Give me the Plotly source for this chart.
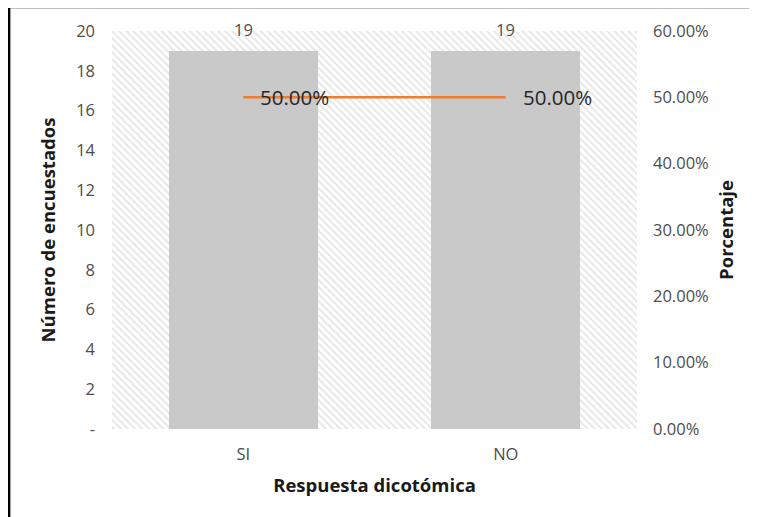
import plotly.graph_objects as go

categorias = ["SI", "NO"]
encuestados = [19, 19]
porcentajes = [0.50, 0.50]
ticks_izq = [0, 2, 4, 6, 8, 10, 12, 14, 16, 18, 20]
ticks_izq_txt = ["-", "2", "4", "6", "8", "10", "12", "14", "16", "18", "20"]
ticks_der = [0, 0.1, 0.2, 0.3, 0.4, 0.5, 0.6]

FONT = "Open Sans"
GRIS_TXT = "#4d4d4d"
NARANJA = "#ED7D31"
TITULO = dict(size=18.5, color="#1a1a1a", family=FONT)
TICKS = dict(size=16.5, color=GRIS_TXT, family=FONT)

fig = go.Figure()

# hatched plot-area background (drawn on the base axes, below everything)
fig.add_trace(go.Bar(
    x=[0.5], y=[1], width=[1], xaxis="x", yaxis="y",
    marker=dict(color="white", line=dict(width=0),
                pattern=dict(shape="\\", fgcolor="#cccccc", bgcolor="white", size=5, solidity=0.35)),
    hoverinfo="skip", showlegend=False,
))

fig.add_trace(go.Bar(
    x=categorias, y=encuestados, xaxis="x2", yaxis="y2", width=0.567,
    marker=dict(color="#C9C9C9", line=dict(width=0)),
    name="Número de encuestados", showlegend=False,
))

fig.add_trace(go.Scatter(
    x=categorias, y=porcentajes, xaxis="x2", yaxis="y3", mode="lines",
    line=dict(color=NARANJA, width=2.5),
    name="Porcentaje", showlegend=False,
))

for c, v in zip(categorias, encuestados):
    fig.add_annotation(x=c, y=v, xref="x2", yref="y2", text=str(v), showarrow=False,
                       yanchor="bottom", yshift=8, font=TICKS)
for c, p in zip(categorias, porcentajes):
    fig.add_annotation(x=c, y=p, xref="x2", yref="y3", text=f"{p*100:.2f}%", showarrow=False,
                       xanchor="left", xshift=15, font=dict(family=FONT, size=20.5, color="#262626"))

# outer frame (top and left edges visible in the reference)
fig.add_shape(type="line", xref="paper", yref="paper", x0=-0.196, x1=1.4, y0=1.0603, y1=1.0603,
              line=dict(color="black", width=2.5))
fig.add_shape(type="line", xref="paper", yref="paper", x0=-0.196, x1=-0.196, y0=1.0603, y1=-0.3,
              line=dict(color="black", width=2.5))

fig.update_layout(
    width=757, height=517,
    margin=dict(l=104, r=128, t=23, b=96),
    paper_bgcolor="white", plot_bgcolor="white",
    font=dict(family=FONT, size=14, color=GRIS_TXT),
    bargap=0,
    xaxis=dict(range=[0, 1], visible=False, fixedrange=True),
    yaxis=dict(range=[0, 1], visible=False, fixedrange=True),
    xaxis2=dict(overlaying="x", type="category", showgrid=False, showline=False, zeroline=False,
                ticks="", ticklabelstandoff=13, tickfont=TICKS,
                title=dict(text="<b>Respuesta dicotómica</b>", standoff=15, font=TITULO)),
    yaxis2=dict(overlaying="y", side="left", range=[0, 20], tickvals=ticks_izq, ticktext=ticks_izq_txt,
                showgrid=False, zeroline=False, showline=False, ticks="", ticklabelstandoff=16,
                tickfont=TICKS,
                title=dict(text="<b>Número de encuestados</b>", standoff=15, font=TITULO)),
    yaxis3=dict(overlaying="y", side="right", range=[0, 0.6], tickvals=ticks_der, tickformat=".2%",
                showgrid=False, zeroline=False, showline=False, ticks="", ticklabelstandoff=15,
                tickfont=TICKS,
                title=dict(text="<b>Porcentaje</b>", standoff=12, font=TITULO)),
)

fig.write_html("out.html")
